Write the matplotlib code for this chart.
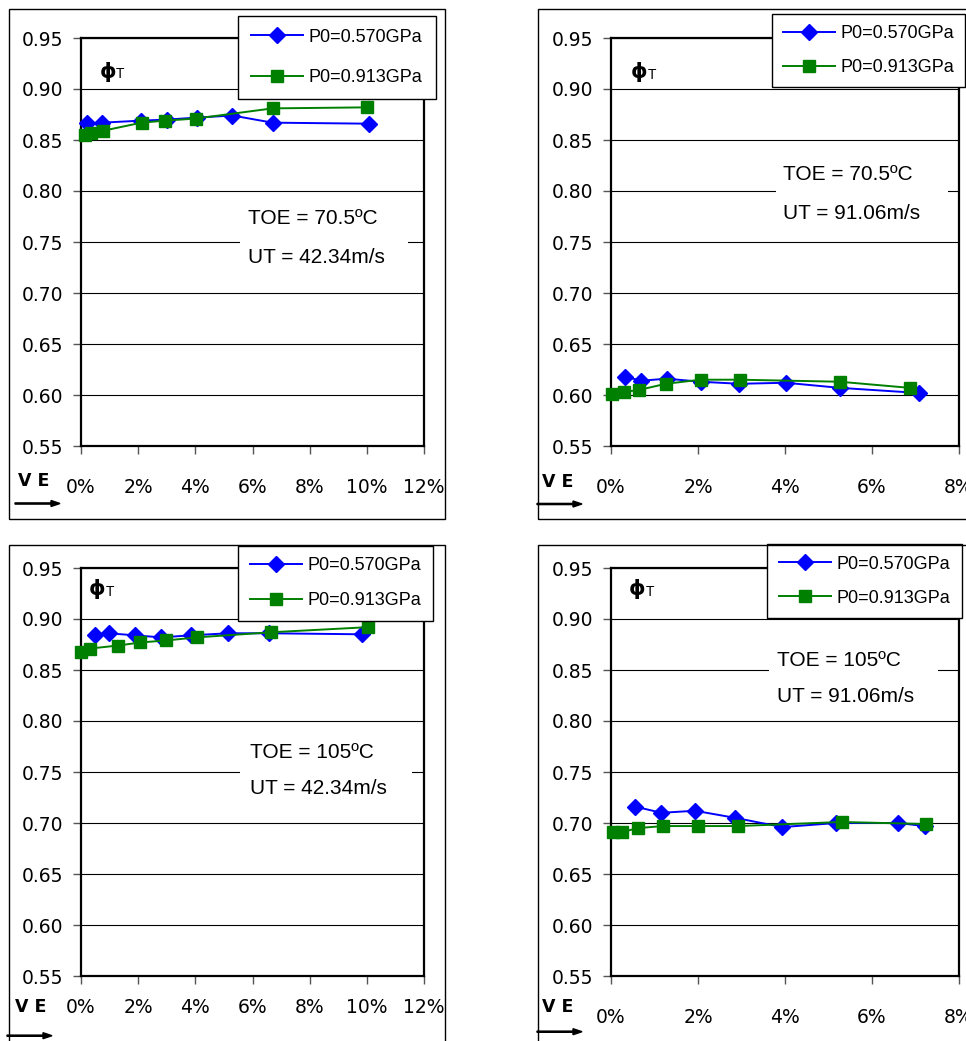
import matplotlib
matplotlib.use("Agg")
import matplotlib.pyplot as plt
from matplotlib.patches import Rectangle, FancyArrow
from matplotlib.ticker import FormatStrFormatter, PercentFormatter, MultipleLocator

W, H = 966, 1041

# VE in %, phi_T values
ve_a1 = [0.22, 0.75, 2.11, 3.01, 4.07, 5.30, 6.70, 10.07]
phi_a1 = [0.8665, 0.867, 0.869, 0.870, 0.872, 0.874, 0.867, 0.866]
ve_b1 = [0.14, 0.34, 0.76, 2.12, 2.94, 4.01, 6.70, 10.00]
phi_b1 = [0.855, 0.857, 0.859, 0.867, 0.869, 0.871, 0.881, 0.882]

ve_a2 = [0.32, 0.70, 1.28, 2.06, 2.95, 4.02, 5.26, 7.07]
phi_a2 = [0.618, 0.614, 0.616, 0.613, 0.611, 0.612, 0.607, 0.602]
ve_b2 = [0.02, 0.30, 0.65, 1.26, 2.06, 2.96, 5.26, 6.87]
phi_b2 = [0.601, 0.603, 0.605, 0.611, 0.615, 0.615, 0.613, 0.607]

ve_a3 = [0.48, 0.97, 1.88, 2.80, 3.86, 5.15, 6.58, 9.82]
phi_a3 = [0.884, 0.886, 0.884, 0.882, 0.884, 0.886, 0.886, 0.885]
ve_b3 = [0.01, 0.30, 1.30, 2.08, 2.99, 4.06, 6.66, 10.05]
phi_b3 = [0.868, 0.871, 0.874, 0.877, 0.879, 0.882, 0.887, 0.892]

ve_a4 = [0.56, 1.16, 1.93, 2.86, 3.94, 5.18, 6.60, 7.21]
phi_a4 = [0.716, 0.710, 0.712, 0.705, 0.696, 0.700, 0.700, 0.697]
ve_b4 = [0.04, 0.25, 0.61, 1.20, 2.01, 2.92, 5.30, 7.24]
phi_b4 = [0.691, 0.691, 0.695, 0.697, 0.697, 0.697, 0.701, 0.699]

labels = ["P0=0.570GPa", "P0=0.913GPa"]
toe_labels = ["TOE = 70.5ºC", "TOE = 70.5ºC", "TOE = 105ºC", "TOE = 105ºC"]
ut_labels = ["UT = 42.34m/s", "UT = 91.06m/s", "UT = 42.34m/s", "UT = 91.06m/s"]
xmax = [12, 8, 12, 8]

# layout in pixels: axes box, outer box, x label center, VE, arrow, legend, text box, phi
panels = [
    dict(ax=(81, 38, 424, 446), box=(9, 9, 445, 518.5), xlab=487.5, ve=(34, 481),
         arrow=(15, 60, 503.5), leg=(238, 15.7), lsp=1.3, bpad=0.72,
         txt=(248, 219, 257.7), gap=(240, 408), phi=(108, 71.7)),
    dict(ax=(611, 38, 959, 446), box=(538, 9, 1000, 519), xlab=486.7, ve=(558, 481.7),
         arrow=(537, 582, 504), leg=(771.7, 14), lsp=0.95, bpad=0.6,
         txt=(783.3, 175, 213.3), gap=(776, 948), phi=(639, 72.5)),
    dict(ax=(81, 568, 424, 976), box=(9, 545, 445, 1100), xlab=1007, ve=(31, 1006.7),
         arrow=(7, 52, 1035.7), leg=(238, 545.7), lsp=1.0, bpad=0.64,
         txt=(250, 752, 788), gap=(240, 412), phi=(97.5, 589)),
    dict(ax=(611, 568, 959, 976), box=(538, 545, 1000, 1100), xlab=1016.7, ve=(558, 1007.5),
         arrow=(537, 582, 1031.7), leg=(767, 544), lsp=0.95, bpad=0.64,
         txt=(777, 660, 696), gap=(769, 938), phi=(637.5, 589)),
]


def fx(x):
    return x / W


def fy(y):
    return 1 - y / H


def draw_panel(fig, i, p, ve_a, phi_a, ve_b, phi_b):
    x0, y0, x1, y1 = p["ax"]
    ax = fig.add_axes([fx(x0), fy(y1), (x1 - x0) / W, (y1 - y0) / H])

    bx0, by0, bx1, by1 = p["box"]
    fig.patches.append(Rectangle((fx(bx0), fy(by1)), (bx1 - bx0) / W, (by1 - by0) / H,
                                 transform=fig.transFigure, fill=False,
                                 edgecolor="black", linewidth=1.0, zorder=0))

    l1, = ax.plot(ve_a, phi_a, color="#0000FF", marker="D", markersize=8,
                  linewidth=1.4, label=labels[0], clip_on=False, zorder=3)
    l2, = ax.plot(ve_b, phi_b, color="#008000", marker="s", markersize=8.5,
                  linewidth=1.4, label=labels[1], clip_on=False, zorder=4)

    ax.set_xlim(0, xmax[i])
    ax.set_ylim(0.55, 0.95)
    ax.xaxis.set_major_locator(MultipleLocator(2))
    ax.xaxis.set_major_formatter(PercentFormatter(xmax=100, decimals=0))
    ax.yaxis.set_major_locator(MultipleLocator(0.05))
    ax.yaxis.set_major_formatter(FormatStrFormatter("%.2f"))
    ax.grid(axis="y", color="black", linewidth=0.8)
    ax.set_axisbelow(True)
    for s in ax.spines.values():
        s.set_linewidth(1.6)
        s.set_color("black")

    xpad = (p["xlab"] - y1 - 8 - 9.5) * 0.72
    ax.tick_params(axis="x", direction="out", length=6, width=1, color="#555555",
                   pad=xpad, labelsize=13.5)
    ax.tick_params(axis="y", direction="out", length=6, width=1, color="#555555",
                   pad=7, labelsize=13.5)

    leg = ax.legend(handles=[l1, l2], loc="upper left",
                    bbox_to_anchor=(fx(p["leg"][0]), fy(p["leg"][1])),
                    bbox_transform=fig.transFigure, borderaxespad=0,
                    fancybox=False, framealpha=1, edgecolor="black",
                    borderpad=p["bpad"], labelspacing=p["lsp"], handlelength=2.9,
                    handletextpad=0.3,
                    prop={"family": "Liberation Sans", "size": 13})
    leg.get_frame().set_linewidth(1.0)

    # phi_T label
    px, py = p["phi"]
    fig.text(fx(px), fy(py), "ϕ", fontsize=15, fontweight="bold",
             ha="center", va="center")
    fig.text(fx(px + 12.5), fy(py + 2.5), "T", fontsize=10, family="Liberation Sans",
             ha="center", va="center")

    # text box with conditions
    tx, ty1, ty2 = p["txt"]
    g0, g1 = p["gap"]
    fig.patches.append(Rectangle((fx(g0), fy(ty2 + 16)), (g1 - g0) / W, (ty2 - ty1 + 32) / H,
                                 transform=fig.transFigure, facecolor="white",
                                 edgecolor="none", zorder=2))
    fig.text(fx(tx), fy(ty1), toe_labels[i], fontsize=15, family="Liberation Sans",
             ha="left", va="center", zorder=3)
    fig.text(fx(tx), fy(ty2), ut_labels[i], fontsize=15, family="Liberation Sans",
             ha="left", va="center", zorder=3)

    # VE label with arrow
    vx, vy = p["ve"]
    fig.text(fx(vx), fy(vy), "V E", fontsize=12.5, fontweight="bold",
             ha="center", va="center")
    a0, a1, ay = p["arrow"]
    fig.patches.append(FancyArrow(fx(a0), fy(ay), (a1 - a0) / W, 0,
                                  transform=fig.transFigure, width=1.2 / H,
                                  head_width=6 / H, head_length=9 / W,
                                  length_includes_head=True, color="black"))


fig = plt.figure(figsize=(W / 100, H / 100), dpi=100)
draw_panel(fig, 0, panels[0], ve_a1, phi_a1, ve_b1, phi_b1)
draw_panel(fig, 1, panels[1], ve_a2, phi_a2, ve_b2, phi_b2)
draw_panel(fig, 2, panels[2], ve_a3, phi_a3, ve_b3, phi_b3)
draw_panel(fig, 3, panels[3], ve_a4, phi_a4, ve_b4, phi_b4)
fig.savefig("out.png", dpi=100)
